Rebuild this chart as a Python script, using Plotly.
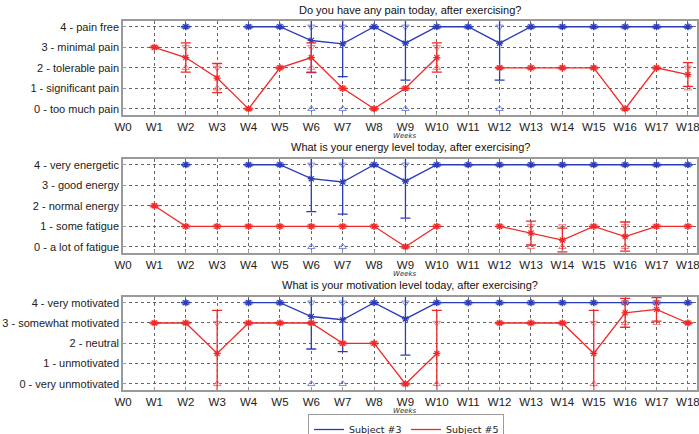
import plotly.graph_objects as go

weeks = ["W%d" % i for i in range(19)]
N = None

titles = ["Do you have any pain today, after exercising?",
          "What is your energy level today, after exercising?",
          "What is your motivation level today, after exercising?"]
ylabels = [
    ["0 - too much pain", "1 - significant pain", "2 - tolerable pain", "3 - minimal pain", "4 - pain free"],
    ["0 - a lot of fatigue", "1 - some fatigue", "2 - normal energy", "3 - good energy", "4 - very energetic"],
    ["0 - very unmotivated", "1 - unmotivated", "2 - neutral", "3 - somewhat motivated", "4 - very motivated"],
]

# Subject #3 (blue)
s3_pain_mean = [N, N, 4, N, 4, 4, 3.33, 3.17, 4, 3.2, 4, 4, 3.2, 4, 4, 4, 4, 4, 4]
s3_pain_std = [N, N, 0, N, 0, 0, 1.57, 1.6, 0, 1.8, 0, 0, 1.8, 0, 0, 0, 0, 0, 0]
s3_pain_max = [N, N, 4, N, 4, 4, 4, 4, 4, 4, 4, 4, 4, 4, 4, 4, 4, 4, 4]
s3_pain_min = [N, N, 4, N, 4, 4, 0, 0, 4, 0, 4, 4, 0, 4, 4, 4, 4, 4, 4]

s3_energy_mean = [N, N, 4, N, 4, 4, 3.32, 3.16, 4, 3.2, 4, 4, 4, 4, 4, 4, 4, 4, 4]
s3_energy_std = [N, N, 0, N, 0, 0, 1.6, 1.57, 0, 1.8, 0, 0, 0, 0, 0, 0, 0, 0, 0]
s3_energy_max = [N, N, 4, N, 4, 4, 4, 4, 4, 4, 4, 4, 4, 4, 4, 4, 4, 4, 4]
s3_energy_min = [N, N, 4, N, 4, 4, 0, 0, 4, 0, 4, 4, 4, 4, 4, 4, 4, 4, 4]

s3_motiv_mean = [N, N, 4, N, 4, 4, 3.32, 3.16, 4, 3.2, 4, 4, 4, 4, 4, 4, 4, 4, 4]
s3_motiv_std = [N, N, 0, N, 0, 0, 1.6, 1.57, 0, 1.78, 0, 0, 0, 0, 0, 0, 0, 0, 0]
s3_motiv_max = [N, N, 4, N, 4, 4, 4, 4, 4, 4, 4, 4, 4, 4, 4, 4, 4, 4, 4]
s3_motiv_min = [N, N, 4, N, 4, 4, 0, 0, 4, 0, 4, 4, 4, 4, 4, 4, 4, 4, 4]

# Subject #5 (red)
s5_pain_mean = [N, 3, 2.5, 1.5, 0, 2, 2.5, 1, 0, 1, 2.5, N, 2, 2, 2, 2, 0, 2, 1.67]
s5_pain_std = [N, 0, 0.71, 0.71, 0, 0, 0.71, 0, 0, 0, 0.71, N, 0, 0, 0, 0, 0, 0, 0.58]
s5_pain_max = [N, 3, 3, 2, 0, 2, 3, 1, 0, 1, 3, N, 2, 2, 2, 2, 0, 2, 2]
s5_pain_min = [N, 3, 2, 1, 0, 2, 2, 1, 0, 1, 2, N, 2, 2, 2, 2, 0, 2, 1]

s5_energy_mean = [N, 2, 1, 1, 1, 1, 1, 1, 1, 0, 1, N, 1, 0.67, 0.33, 1, 0.5, 1, 1]
s5_energy_std = [N, 0, 0, 0, 0, 0, 0, 0, 0, 0, 0, N, 0, 0.58, 0.58, 0, 0.71, 0, 0]
s5_energy_max = [N, 2, 1, 1, 1, 1, 1, 1, 1, 0, 1, N, 1, 1, 1, 1, 1, 1, 1]
s5_energy_min = [N, 2, 1, 1, 1, 1, 1, 1, 1, 0, 1, N, 1, 0, 0, 1, 0, 1, 1]

s5_motiv_mean = [N, 3, 3, 1.5, 3, 3, 3, 2, 2, 0, 1.5, N, 3, 3, 3, 1.5, 3.5, 3.67, 3]
s5_motiv_std = [N, 0, 0, 2.12, 0, 0, 0, 0, 0, 0, 2.12, N, 0, 0, 0, 2.12, 0.71, 0.58, 0]
s5_motiv_max = [N, 3, 3, 3, 3, 3, 3, 2, 2, 0, 3, N, 3, 3, 3, 3, 4, 4, 3]
s5_motiv_min = [N, 3, 3, 0, 3, 3, 3, 2, 2, 0, 0, N, 3, 3, 3, 0, 3, 3, 3]

x_idx = list(range(19))

BLUE = "#2b3cb8"
RED = "#f02828"
BLUE_L = "#7f8ce0"
RED_L = "#f48080"

panels = [
    (s3_pain_mean, s3_pain_std, s3_pain_max, s3_pain_min, s5_pain_mean, s5_pain_std, s5_pain_max, s5_pain_min),
    (s3_energy_mean, s3_energy_std, s3_energy_max, s3_energy_min, s5_energy_mean, s5_energy_std, s5_energy_max, s5_energy_min),
    (s3_motiv_mean, s3_motiv_std, s3_motiv_max, s3_motiv_min, s5_motiv_mean, s5_motiv_std, s5_motiv_max, s5_motiv_min),
]

W, H = 699, 434
x0, x1 = 123, 697
ydoms = [(21, 115), (159, 253), (297, 390)]
title_y = [10, 147, 285]
weeks_y = [136.5, 273.5, 410.5]
XMAX = 18.29

fig = go.Figure()

for p, data in enumerate(panels):
    xa = "x" if p == 0 else "x%d" % (p + 1)
    ya = "y" if p == 0 else "y%d" % (p + 1)
    groups = [(data[0], data[1], data[2], data[3], BLUE, BLUE_L),
              (data[4], data[5], data[6], data[7], RED, RED_L)]
    for mean, std, mx, mn, col, lcol in groups:
        fig.add_trace(go.Scatter(x=x_idx, y=mx, mode="markers", xaxis=xa, yaxis=ya,
                                 marker=dict(symbol="triangle-down-open", size=6.5, color=lcol,
                                             line=dict(width=1, color=lcol)),
                                 showlegend=False, hoverinfo="skip"))
        fig.add_trace(go.Scatter(x=x_idx, y=mn, mode="markers", xaxis=xa, yaxis=ya,
                                 marker=dict(symbol="triangle-up-open", size=6.5, color=lcol,
                                             line=dict(width=1, color=lcol)),
                                 showlegend=False, hoverinfo="skip"))
        fig.add_trace(go.Scatter(x=x_idx, y=mean, mode="lines+markers", xaxis=xa, yaxis=ya,
                                 line=dict(color=col, width=1.3), connectgaps=False,
                                 marker=dict(symbol="asterisk-open", size=6, color=col,
                                             line=dict(width=1.2, color=col)),
                                 error_y=dict(type="data", array=std, visible=True,
                                              color=col, thickness=1.3, width=5),
                                 showlegend=False))

    top, bot = ydoms[p]
    dom_y = [1 - bot / H, 1 - top / H]
    xkey = "xaxis" if p == 0 else "xaxis%d" % (p + 1)
    ykey = "yaxis" if p == 0 else "yaxis%d" % (p + 1)
    fig.layout[xkey] = dict(domain=[x0 / W, x1 / W], range=[0, XMAX], anchor=ya, automargin=False,
                            tickmode="array", tickvals=x_idx, ticktext=weeks, ticklabeloverflow="allow",
                            showgrid=True, gridcolor="#666666", griddash="dot", gridwidth=1,
                            showline=True, mirror=True, linecolor="#9a9a9a", linewidth=1.5,
                            ticks="inside", ticklen=3, tickcolor="#9a9a9a",
                            zeroline=False, tickfont=dict(family="Liberation Sans, Arial", size=11.5, color="#222"))
    fig.layout[ykey] = dict(domain=dom_y, range=[-0.3, 4.28], anchor=xa, automargin=False,
                            tickmode="array", tickvals=[0, 1, 2, 3, 4], ticktext=ylabels[p],
                            ticklabeloverflow="allow",
                            showgrid=True, gridcolor="#666666", griddash="dot", gridwidth=1,
                            showline=True, mirror=True, linecolor="#9a9a9a", linewidth=1.5,
                            ticks="inside", ticklen=3, tickcolor="#9a9a9a",
                            zeroline=False, tickfont=dict(family="Liberation Sans, Arial", size=11, color="#222"))
    fig.add_annotation(text=titles[p], xref="paper", yref="paper",
                       x=(x0 + x1) / 2 / W, y=1 - title_y[p] / H, xanchor="center", yanchor="middle",
                       showarrow=False, font=dict(family="Liberation Sans, Arial", size=11, color="#111"))
    fig.add_annotation(text="<i>Weeks</i>", xref="paper", yref="paper",
                       x=(x0 + 9 * (x1 - x0) / XMAX) / W, y=1 - weeks_y[p] / H,
                       xanchor="center", yanchor="middle", showarrow=False,
                       font=dict(family="DejaVu Sans", size=7, color="#333"))

fig.add_trace(go.Scatter(x=[None], y=[None], mode="lines", name="Subject #3",
                         line=dict(color=BLUE, width=1.3)))
fig.add_trace(go.Scatter(x=[None], y=[None], mode="lines", name="Subject #5",
                         line=dict(color=RED, width=1.3)))

fig.update_layout(
    width=W, height=H, margin=dict(l=0, r=0, t=0, b=0, autoexpand=False),
    paper_bgcolor="white", plot_bgcolor="white",
    showlegend=True,
    legend=dict(orientation="h", x=308 / W, y=1 - 414 / H, xanchor="left", yanchor="top",
                xref="container", yref="container",
                bordercolor="#9a9a9a", borderwidth=1, bgcolor="white",
                font=dict(family="DejaVu Sans", size=9.5, color="#222"),
                itemwidth=30, tracegroupgap=0, entrywidth=52),
)

fig.write_html("out.html", config={"displayModeBar": False},
               post_script="document.body.style.margin='0px';")
